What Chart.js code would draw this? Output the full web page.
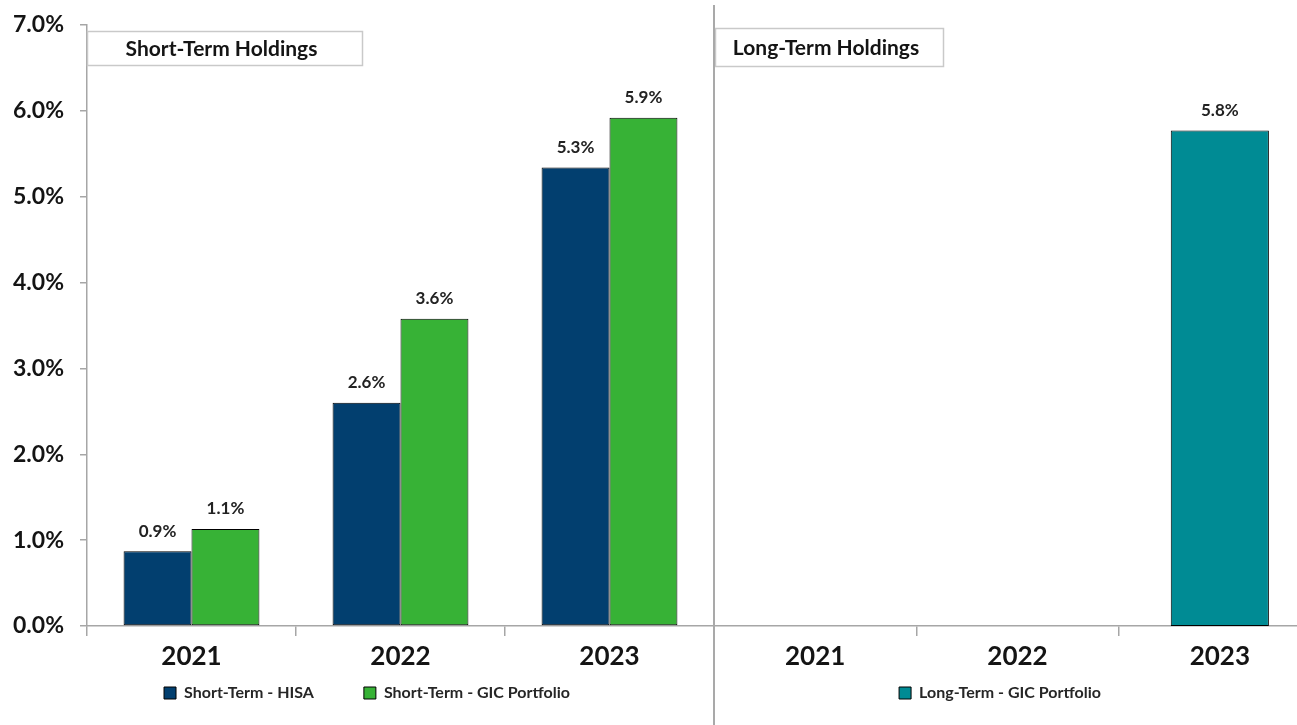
<!DOCTYPE html>
<html>
<head>
<meta charset="utf-8">
<script src="https://cdn.jsdelivr.net/npm/chart.js@4.4.1/dist/chart.umd.min.js"></script>
<style>
  html, body { margin: 0; padding: 0; background: #fff; overflow: hidden; }
  #wrap { position: relative; width: 1297px; height: 725px; overflow: hidden; }
  #shortBox { position: absolute; left: 0; top: 0; width: 714px; height: 725px; }
  #longBox { position: absolute; left: 714px; top: 0; width: 607px; height: 725px; }
  #divider { position: absolute; left: 713px; top: 5px; width: 2px; height: 720px; background: #a9a9a9; }
</style>
</head>
<body>
<div id="wrap">
  <div id="shortBox"><canvas id="shortChart"></canvas></div>
  <div id="longBox"><canvas id="longChart"></canvas></div>
  <div id="divider"></div>
</div>
<script>
const years = ['2021', '2022', '2023'];

const hisaLabel = 'Short-Term - HISA';
const hisaValues = [0.87, 2.60, 5.34];

const shortGicLabel = 'Short-Term - GIC Portfolio';
const shortGicValues = [1.13, 3.58, 5.92];

const longGicLabel = 'Long-Term - GIC Portfolio';
const longGicValues = [null, null, 5.77];

const yMin = 0, yMax = 7, yStep = 1;
const panelTitles = ['Short-Term Holdings', 'Long-Term Holdings'];

const FONT = 'Lato, "Open Sans", sans-serif';
const axisColor = '#a6a6a6';
const textColor = '#141414';

// percent labels above each bar
const valueLabels = {
    id: 'valueLabels',
    afterDatasetsDraw(chart) {
        const { ctx } = chart;
        ctx.save();
        ctx.font = `bold 17px ${FONT}`;
        ctx.fillStyle = '#222';
        ctx.textAlign = 'center';
        ctx.textBaseline = 'middle';
        chart.data.datasets.forEach((ds, i) => {
            chart.getDatasetMeta(i).data.forEach((bar, j) => {
                const v = ds.data[j];
                if (v == null) return;
                ctx.fillText(v.toFixed(1) + '%', bar.x, bar.y - 20);
            });
        });
        ctx.restore();
    }
};

// boxed panel heading in the top-left of each plot
const panelTitle = {
    id: 'panelTitle',
    afterDraw(chart, args, opts) {
        if (!opts.text) return;
        const { ctx, chartArea } = chart;
        const x = chartArea.left + opts.dx;
        ctx.save();
        ctx.fillStyle = '#fff';
        ctx.fillRect(x, opts.top, opts.width, opts.height);
        ctx.strokeStyle = '#c9c9c9';
        ctx.lineWidth = 1.5;
        ctx.strokeRect(x + 0.5, opts.top + 0.5, opts.width, opts.height);
        ctx.font = `bold 21px ${FONT}`;
        ctx.fillStyle = textColor;
        ctx.textAlign = 'center';
        ctx.textBaseline = 'middle';
        ctx.fillText(opts.text, x + opts.width / 2 - 3, opts.top + opts.height / 2 + 1);
        ctx.restore();
    }
};

// move the legend row under its own panel
const legendPlace = {
    id: 'legendPlace',
    afterLayout(chart, args, opts) {
        const lg = chart.legend;
        if (!lg) return;
        if (opts.left != null) lg.left = opts.left;
        if (opts.right != null) lg.right = opts.right;
        lg.top = opts.centerY - lg.options.labels.padding - 7;
    }
};

const LEGEND_PAD = 50;
const X_AXIS_H = 50;

function buildOptions(showY, title, place) {
    return {
        responsive: true,
        maintainAspectRatio: false,
        animation: false,
        events: [],
        layout: { padding: { top: 25, bottom: 0, left: 0, right: 0 } },
        plugins: {
            tooltip: { enabled: false },
            legend: {
                position: 'bottom',
                maxHeight: 725 - 626 - X_AXIS_H,
                labels: {
                    boxWidth: 12,
                    boxHeight: 12,
                    padding: LEGEND_PAD,
                    color: '#262626',
                    font: { family: FONT, size: 16, weight: 'bold' }
                }
            },
            legendPlace: place,
            panelTitle: title
        },
        scales: {
            x: {
                grid: { offset: true, drawOnChartArea: false, drawTicks: true, tickLength: 10, color: axisColor, lineWidth: 1.5 },
                border: { color: axisColor, width: 1.5 },
                ticks: { color: textColor, padding: 5, font: { family: FONT, size: 26, weight: 'bold' } },
                afterFit: s => { s.height = X_AXIS_H; s.paddingLeft = 0; s.paddingRight = 0; }
            },
            y: {
                display: showY,
                min: yMin,
                max: yMax,
                grid: { drawOnChartArea: false, drawTicks: true, tickLength: 7, color: axisColor, lineWidth: 1.5 },
                border: { color: axisColor, width: 1.5 },
                ticks: {
                    stepSize: yStep,
                    padding: 16,
                    color: textColor,
                    font: { family: FONT, size: 23, weight: 'bold' },
                    callback: v => v.toFixed(1) + '%'
                },
                afterFit: s => { s.width = showY ? 87 : 0; s.paddingTop = 0; s.paddingBottom = 0; }
            }
        }
    };
}

new Chart(document.getElementById('shortChart'), {
    type: 'bar',
    plugins: [valueLabels, panelTitle, legendPlace],
    data: {
        labels: years,
        datasets: [{
            label: hisaLabel,
            data: hisaValues,
            backgroundColor: '#023f6f',
            borderColor: '#000',
            borderWidth: 1,
            borderSkipped: false,
            categoryPercentage: 0.65,
            barPercentage: 1
        }, {
            label: shortGicLabel,
            data: shortGicValues,
            backgroundColor: '#37b236',
            borderColor: '#000',
            borderWidth: 1,
            borderSkipped: false,
            categoryPercentage: 0.65,
            barPercentage: 1
        }]
    },
    options: buildOptions(true,
        { text: panelTitles[0], dx: 0, top: 31, width: 275, height: 34 },
        { left: 20, right: 714, centerY: 692 })
});

new Chart(document.getElementById('longChart'), {
    type: 'bar',
    plugins: [valueLabels, panelTitle, legendPlace],
    data: {
        labels: years,
        datasets: [{
            label: longGicLabel,
            data: longGicValues,
            backgroundColor: '#008b94',
            borderColor: '#000',
            borderWidth: 1,
            borderSkipped: false,
            categoryPercentage: 0.485,
            barPercentage: 1
        }]
    },
    options: buildOptions(false,
        { text: panelTitles[1], dx: 1, top: 28, width: 228, height: 38 },
        { left: 0, right: 572, centerY: 692 })
});
</script>
</body>
</html>
